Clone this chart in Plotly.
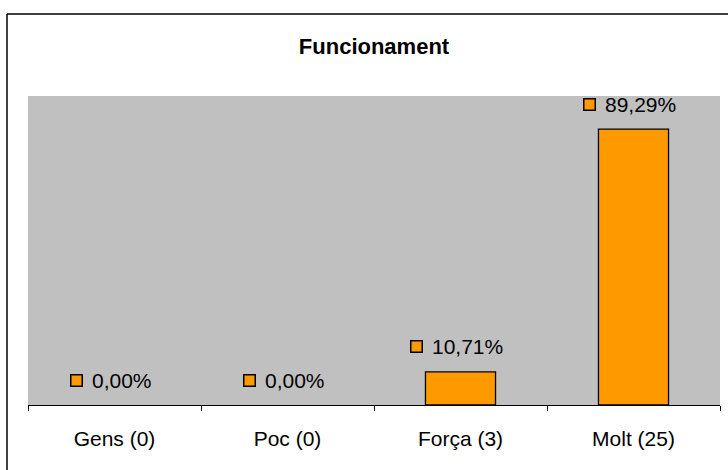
import plotly.graph_objects as go

categories = ["Gens (0)", "Poc (0)", "Força (3)", "Molt (25)"]
percents = [0.0, 0.0, 10.71, 89.29]
labels = ["0,00%", "0,00%", "10,71%", "89,29%"]

ORANGE = "#FF9900"
FONT = "Liberation Sans, Arial, sans-serif"
FS = 21


def text_width(s, size):
    # rough Arial advance widths
    w = {",": 0.278, "%": 0.889}
    return sum(w.get(c, 0.556) for c in s) * size


fig = go.Figure(go.Bar(
    x=categories,
    y=percents,
    marker=dict(color=ORANGE,
                line=dict(color="black", width=[1.3 if v > 0 else 0 for v in percents])),
    hoverinfo="skip",
))

for cat, val, lab in zip(categories, percents, labels):
    tw = text_width(lab, FS)
    fig.add_annotation(x=cat, y=val, text=lab, showarrow=False,
                       xanchor="center", yanchor="middle", xshift=7, yshift=25,
                       font=dict(family=FONT, size=FS, color="black"))
    fig.add_annotation(x=cat, y=val, text=" ", showarrow=False,
                       xanchor="center", yanchor="middle",
                       xshift=7 - tw / 2 - 15, yshift=25,
                       width=10, height=10, borderpad=0, borderwidth=1.5,
                       bgcolor=ORANGE, bordercolor="black",
                       font=dict(size=1))

# outer chart border: only left and top edges are inside the picture
bx = (7 - 28) / 692
by = 1 + (96 - 14) / 309
fig.add_shape(type="line", xref="paper", yref="paper", x0=bx, x1=bx, y0=-0.5, y1=by,
              line=dict(color="black", width=1.5))
fig.add_shape(type="line", xref="paper", yref="paper", x0=bx, x1=1.2, y0=by, y1=by,
              line=dict(color="black", width=1.5))

fig.update_layout(
    width=728, height=470,
    margin=dict(l=28, r=8, t=96, b=65),
    paper_bgcolor="white", plot_bgcolor="#C0C0C0",
    bargap=0.595,
    showlegend=False,
    title=dict(text="<b>Funcionament</b>", x=0.5, xref="paper",
               y=1 - 46 / 470, yanchor="middle",
               font=dict(family=FONT, size=22, color="black")),
    font=dict(family=FONT, size=FS, color="black"),
)
fig.update_xaxes(showline=True, linecolor="black", linewidth=1,
                 ticks="outside", tickson="boundaries", ticklen=5,
                 tickcolor="black", tickwidth=1, ticklabelstandoff=15,
                 showgrid=False, tickfont=dict(family=FONT, size=FS))
fig.update_yaxes(range=[0, 100], visible=False, showgrid=False)

fig.write_html("out.html", config={"displayModeBar": False},
               post_script="document.body.style.margin='0';")
